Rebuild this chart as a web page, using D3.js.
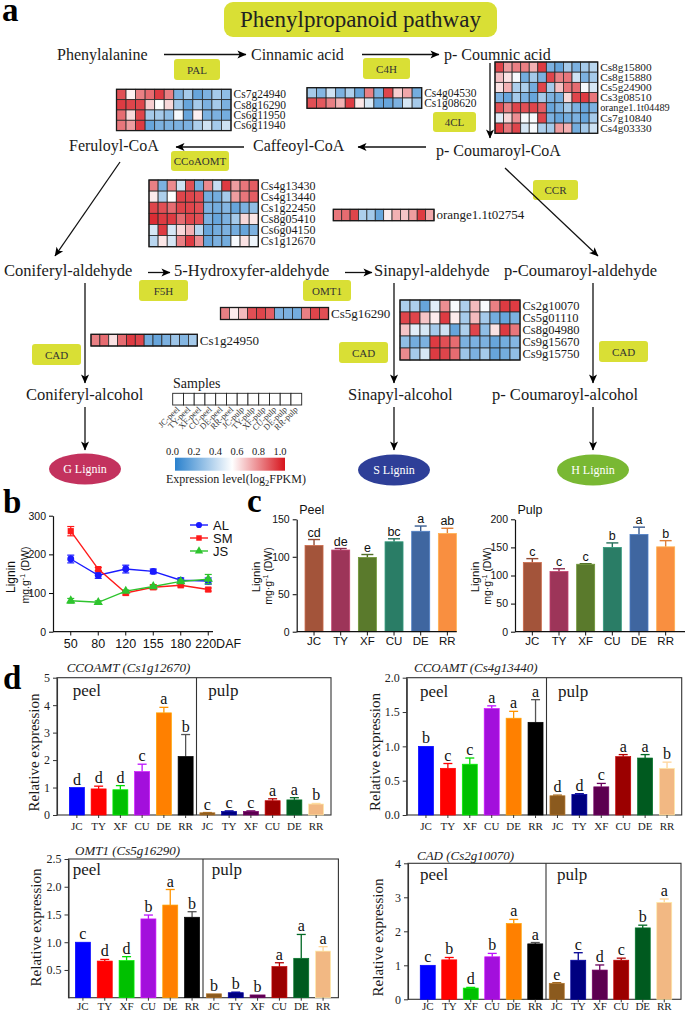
<!DOCTYPE html>
<html><head><meta charset="utf-8">
<script src="https://cdn.jsdelivr.net/npm/d3@7"></script>
<style>
body{margin:0;background:#fff}
svg{display:block}
</style>
</head><body>
<svg id="fig" width="685" height="1016"></svg>
<script>
// ---------------- DATA ----------------
const sampleLabels = ["JC-peel","TY-peel","XF-peel","CU-peel","DE-peel","RR-peel","JC-pulp","TY-pulp","XF-pulp","CU-pulp","DE-pulp","RR-pulp"];

const palGenes = ["Cs7g24940","Cs8g16290","Cs6g11950","Cs6g11940"];
const palExpr = [
 [0.88,0.55,0.78,0.82,0.92,0.78,0.20,0.30,0.15,0.20,0.30,0.25],
 [0.92,0.90,0.90,0.62,0.52,0.60,0.30,0.15,0.30,0.20,0.30,0.20],
 [0.82,0.60,0.90,0.30,0.30,0.25,0.50,0.15,0.55,0.20,0.20,0.18],
 [0.80,0.72,0.92,0.15,0.20,0.20,0.20,0.20,0.32,0.40,0.30,0.40]];

const c4hGenes = ["Cs4g04530","Cs1g08620"];
const c4hExpr = [
 [0.30,0.22,0.40,0.20,0.32,0.15,0.78,0.20,0.90,0.62,0.70,0.18],
 [0.88,0.86,0.78,0.68,0.92,0.57,0.42,0.15,0.15,0.20,0.42,0.30]];

const clGenes = ["Cs8g15800","Cs8g15880","Cs5g24900","Cs3g08510","orange1.1t04489","Cs7g10840","Cs4g03330"];
const clExpr = [
 [0.90,0.72,0.78,0.78,0.68,0.92,0.20,0.15,0.30,0.20,0.30,0.35],
 [0.65,0.58,0.50,0.18,0.30,0.20,0.90,0.78,0.80,0.40,0.20,0.30],
 [0.58,0.68,0.32,0.32,0.18,0.90,0.30,0.65,0.80,0.82,0.50,0.42],
 [0.20,0.15,0.30,0.20,0.15,0.30,0.20,0.18,0.60,0.90,0.92,0.80],
 [0.88,0.78,0.90,0.88,0.90,0.85,0.15,0.20,0.30,0.20,0.15,0.20],
 [0.45,0.60,0.75,0.50,0.50,0.90,0.20,0.15,0.18,0.20,0.15,0.30],
 [0.92,0.80,0.90,0.42,0.50,0.32,0.30,0.72,0.68,0.18,0.30,0.40]];

const ccoaGenes = ["Cs4g13430","Cs4g13440","Cs1g22450","Cs8g05410","Cs6g04150","Cs1g12670"];
const ccoaExpr = [
 [0.78,0.20,0.76,0.40,0.88,0.18,0.76,0.38,0.92,0.72,0.80,0.85],
 [0.56,0.32,0.52,0.90,0.90,0.88,0.18,0.18,0.30,0.72,0.80,0.85],
 [0.90,0.88,0.82,0.90,0.90,0.88,0.20,0.18,0.22,0.15,0.20,0.25],
 [0.95,0.92,0.92,0.82,0.90,0.88,0.20,0.15,0.20,0.30,0.60,0.57],
 [0.42,0.92,0.42,0.60,0.68,0.35,0.15,0.18,0.20,0.18,0.15,0.20],
 [0.35,0.57,0.42,0.78,0.92,0.75,0.15,0.20,0.18,0.50,0.58,0.48]];

const ccrGenes = ["orange1.1t02754"];
const ccrExpr = [[0.80,0.82,0.90,0.32,0.30,0.15,0.56,0.68,0.64,0.72,0.92,0.70]];

const omtGenes = ["Cs5g16290"];
const omtExpr = [[0.78,0.56,0.66,0.88,0.90,0.85,0.20,0.20,0.18,0.78,0.90,0.88]];

const cadLGenes = ["Cs1g24950"];
const cadLExpr = [[0.78,0.82,0.58,0.82,0.92,0.90,0.18,0.15,0.20,0.28,0.22,0.30]];

const cadGenes = ["Cs2g10070","Cs5g01110","Cs8g04980","Cs9g15670","Cs9g15750"];
const cadExpr = [
 [0.32,0.32,0.15,0.45,0.75,0.50,0.32,0.66,0.50,0.78,0.92,0.92],
 [0.90,0.90,0.64,0.56,0.92,0.56,0.30,0.66,0.30,0.18,0.15,0.20],
 [0.64,0.45,0.42,0.30,0.40,0.15,0.32,0.90,0.25,0.58,0.92,0.80],
 [0.25,0.18,0.20,0.92,0.88,0.82,0.20,0.20,0.20,0.15,0.18,0.22],
 [0.76,0.30,0.42,0.92,0.90,0.82,0.28,0.20,0.30,0.15,0.18,0.25]];

const legendTicks = [0,0.2,0.4,0.6,0.8,1.0];

// panel b
const dafLabels = ["50","80","120","155","180","220"];
const alLignin = [188,146,162,156,133,131];
const alErr    = [10,8,10,6,6,8];
const smLignin = [260,162,100,115,120,109];
const smErr    = [12,4,5,6,4,4];
const jsLignin = [80,76,105,117,130,136];
const jsErr    = [6,4,3,3,4,12];
const bTicks = [0,100,200,300];

// panel c
const cultivars = ["JC","TY","XF","CU","DE","RR"];
const peelLignin = [115,109,99,120,134,131];
const peelErr = [8,2,4,4,7,7];
const peelLetters = ["cd","de","e","bc","a","ab"];
const pulpLignin = [123,107,120,150,173,151];
const pulpErr = [7,5,1,8,13,11];
const pulpLetters = ["c","c","c","b","a","b"];
const peelTicks = [0,50,100,150];
const pulpTicks = [0,50,100,150,200];

// panel d
const qLabels = ["JC","TY","XF","CU","DE","RR","JC","TY","XF","CU","DE","RR"];
const ccoamt1Val = [1.0,0.95,0.92,1.58,3.72,2.13, 0.08,0.13,0.13,0.52,0.55,0.40];
const ccoamt1Err = [0,0.10,0.15,0.27,0.20,0.80, 0.01,0.02,0.02,0.07,0.08,0.02];
const ccoamt1Let = ["d","d","d","c","a","b","c","c","c","a","a","b"];
const ccoamt1Ticks = [0,1,2,3,4,5];

const ccoamt2Val = [1.0,0.68,0.74,1.55,1.41,1.35, 0.28,0.30,0.41,0.85,0.83,0.68];
const ccoamt2Err = [0,0.07,0.09,0.04,0.10,0.33, 0.01,0.01,0.05,0.03,0.05,0.09];
const ccoamt2Let = ["b","c","c","a","a","a","d","d","c","a","a","b"];
const ccoamt2Ticks = [0,0.5,1.0,1.5,2.0];

const omt1Val = [1.0,0.66,0.67,1.42,1.67,1.45, 0.07,0.09,0.05,0.56,0.71,0.84];
const omt1Err = [0,0.03,0.07,0.07,0.28,0.10, 0.0,0.01,0.0,0.07,0.43,0.08];
const omt1Let = ["c","d","d","b","a","b","b","b","b","a","a","a"];
const omt1Ticks = [0.5,1.0,1.5,2.0,2.5];

const cadVal = [1.0,1.16,0.33,1.25,2.23,1.63, 0.47,1.15,0.86,1.15,2.10,2.85];
const cadErr = [0,0.07,0.02,0.10,0.12,0.04, 0.02,0.22,0.15,0.06,0.08,0.10];
const cadLet = ["c","b","d","b","a","a","e","c","d","c","b","a"];
const cadTicks = [0,1,2,3,4];

// palettes
const cultivarColors = ["#a3543a","#9d3559","#5a7a2c","#2a7d66","#3f66a0","#f98f40"];
const qColors = ["#0000ff","#ff0000","#00c000","#a30fdc","#ff8000","#000000",
                 "#8b5a1e","#000080","#5c0050","#9b0000","#005a1f","#f2b883"];

// ---------------- DRAW ----------------
const SERIF = '"Liberation Serif","Times New Roman",serif';
const SANS = '"Liberation Sans",Arial,sans-serif';
const svg = d3.select("#fig");
const defs = svg.append("defs");
defs.append("marker").attr("id","ah").attr("viewBox","0 0 10 10").attr("refX",9.5).attr("refY",5)
  .attr("markerWidth",10).attr("markerHeight",9).attr("markerUnits","userSpaceOnUse").attr("orient","auto")
  .append("path").attr("d","M0,0.5 L10,5 L0,9.5 L2.5,5 Z").attr("fill","#000");

const heatColor = d3.scaleLinear().domain([0,0.52,1]).range(["#2a81cd","#ffffff","#d7141c"]);

function txt(g, x, y, s, size, opts={}){
  const t = g.append("text").attr("x",x).attr("y",y).text(s)
    .attr("font-family",opts.family||SERIF).attr("font-size",size).attr("fill",opts.fill||"#1a1a1a");
  if(opts.anchor) t.attr("text-anchor",opts.anchor);
  if(opts.weight) t.attr("font-weight",opts.weight);
  if(opts.style) t.attr("font-style",opts.style);
  return t;
}

// panel letters
[["a",2,21],["b",3,513],["c",247,512],["d",3,689]].forEach(([l,x,y])=>txt(svg,x,y,l,33,{weight:"bold",fill:"#000"}));

// Title box
svg.append("rect").attr("x",224).attr("y",2).attr("width",273).attr("height",35).attr("rx",9).attr("fill","#d9df35");
txt(svg,360.5,27,"Phenylpropanoid pathway",23,{anchor:"middle",fill:"#222"});

// heatmap helper
function heat(genes, rows, x, y, w, h, fs){
  const xs = d3.scaleBand().domain(d3.range(12)).range([x,x+w]);
  const ys = d3.scaleBand().domain(genes).range([y,y+h]);
  const g = svg.append("g");
  rows.forEach((r,ri)=>r.forEach((v,ci)=>{
    g.append("rect").attr("x",xs(ci)).attr("y",ys(genes[ri])).attr("width",xs.bandwidth()).attr("height",ys.bandwidth())
      .attr("fill",heatColor(v)).attr("stroke","#2a2a2a").attr("stroke-width",0.8);
  }));
  g.append("rect").attr("x",x).attr("y",y).attr("width",w).attr("height",h).attr("fill","none").attr("stroke","#1a1a1a").attr("stroke-width",1.3);
  genes.forEach(gn=>txt(g,x+w+2.5,ys(gn)+ys.bandwidth()/2,gn,gn.startsWith("orange")&&genes.length>1?fs-1:fs).attr("dy","0.34em"));
}
heat(palGenes,palExpr,116.5,89.3,114.5,41.3,11.5);
heat(c4hGenes,c4hExpr,307,87.7,114.7,20.6,11.5);
heat(clGenes,clExpr,495,62,102.7,71.3,11.3);
heat(ccoaGenes,ccoaExpr,149,180,109.3,66.7,12);
heat(ccrGenes,ccrExpr,333.3,209.3,100.7,11.4,13);
heat(omtGenes,omtExpr,220.5,307.5,108,12,13);
heat(cadLGenes,cadLExpr,91,334.3,106.3,11.7,13);
heat(cadGenes,cadExpr,400,300,120,60,12.5);

// enzyme boxes
[["PAL",174,59,46,21],["C4H",363,58,47,21],["4CL",433,112,43,20],["CCoAOMT",171,151,58,20],["CCR",533,180,45,20],
 ["F5H",139,280,49,21],["OMT1",303,280,48,21],["CAD",32,344,49,21],["CAD",339,342,49,21],["CAD",599,341,49,21]]
.forEach(([l,x,y,w,h])=>{
  svg.append("rect").attr("x",x).attr("y",y).attr("width",w).attr("height",h).attr("rx",3).attr("fill","#d9df35");
  txt(svg,x+w/2,y+h/2+4,l,11,{anchor:"middle",fill:"#333"});
});

// compounds
[["Phenylalanine",57,60],["Cinnamic acid",251,60],["p- Coumnic acid",444,60],
 ["Feruloyl-CoA",69,151],["Caffeoyl-CoA",253,151],["p- Coumaroyl-CoA",436,156]]
.forEach(([s,x,y])=>txt(svg,x,y,s,16));
[["Coniferyl-aldehyde",4,276],["5-Hydroxyfer-aldehyde",174,276],["Sinapyl-aldehyde",374,276],["p-Coumaroyl-aldehyde",504,276],
 ["Coniferyl-alcohol",26,400],["Sinapyl-alcohol",348,400],["p- Coumaroyl-alcohol",492,400]]
.forEach(([s,x,y])=>txt(svg,x,y,s,16.5));

// arrows
[[164,54.5,246,54.5],[362,54.5,439,54.5],[490,63,490,138],[426,147,358,147],[244,147,176,147],
 [120,162,55,256],[505,168,598,256],[148,272.5,170,272.5],[345,272.5,372,272.5],
 [85,283,85,383],[394,283,394,383],[593,283,593,383],[85,407,85,450],[394,407,394,450],[593,407,593,450]]
.forEach(([x1,y1,x2,y2])=>svg.append("line").attr("x1",x1).attr("y1",y1).attr("x2",x2).attr("y2",y2)
  .attr("stroke","#111").attr("stroke-width",1.3).attr("marker-end","url(#ah)"));

// lignin ellipses
[["G Lignin",85,469,"#c3325e"],["S Lignin",394,470,"#2e3f98"],["H Lignin",593,470,"#79b833"]].forEach(([l,cx,cy,c])=>{
  svg.append("ellipse").attr("cx",cx).attr("cy",cy).attr("rx",36).attr("ry",15.5).attr("fill",c);
  txt(svg,cx,cy+4,l,12,{anchor:"middle",fill:"#fff"});
});

// Samples legend
txt(svg,173,388,"Samples",14);
const sx = d3.scaleBand().domain(sampleLabels).range([172.7,301.7]);
sampleLabels.forEach(s=>{
  svg.append("rect").attr("x",sx(s)).attr("y",393.3).attr("width",sx.bandwidth()).attr("height",11.7).attr("fill","#fff").attr("stroke","#222").attr("stroke-width",0.9);
  const cx = sx(s)+sx.bandwidth()/2+2;
  txt(svg,0,0,s,8.5,{anchor:"end",fill:"#333"}).attr("transform",`translate(${cx},410) rotate(-45)`);
});
// colour legend
const grad = defs.append("linearGradient").attr("id","hg");
[[0,"#2a81cd"],[0.52,"#ffffff"],[1,"#d7141c"]].forEach(([o,c])=>grad.append("stop").attr("offset",o).attr("stop-color",c));
svg.append("rect").attr("x",175).attr("y",457.7).attr("width",110).attr("height",13).attr("fill","url(#hg)");
const lx = d3.scaleLinear().domain([0,1]).range([172.5,280]);
legendTicks.forEach(v=>txt(svg,lx(v),455,v.toFixed(1),10.5,{anchor:"middle"}));
const el = txt(svg,166,482.7,"Expression level(log",12);
el.append("tspan").attr("font-size",8.5).attr("dy",3).text("2");
el.append("tspan").attr("dy",-3).text("FPKM)");

// ---------------- panel b ----------------
{
  const g = svg.append("g").attr("font-family",SANS);
  const x = d3.scalePoint().domain(dafLabels).range([57,222]).padding(0.5);
  const y = d3.scaleLinear().domain([0,300]).range([631.7,515.7]);
  const ax = g.append("g").attr("transform","translate(53,0)").call(d3.axisLeft(y).tickValues(bTicks).tickSize(4).tickSizeOuter(0));
  ax.selectAll("text").attr("font-size",10.5).attr("font-family",SANS).attr("fill","#111");
  ax.select(".domain").attr("stroke","#111").attr("stroke-width",1.2);
  g.append("line").attr("x1",53).attr("x2",213).attr("y1",631.7).attr("y2",631.7).attr("stroke","#111").attr("stroke-width",1.2);
  dafLabels.forEach((d,i)=>{
    g.append("line").attr("x1",x(d)).attr("x2",x(d)).attr("y1",631.7).attr("y2",635.5).attr("stroke","#111");
    if(i<dafLabels.length-1) txt(g,x(d),648,d,12.5,{anchor:"middle",family:SANS,fill:"#111"});
    else txt(g,x(d)-13,648,d+"DAF",12.5,{family:SANS,fill:"#111"});
  });
  const series = [
    {name:"AL",v:alLignin,e:alErr,c:"#1a1aff",sym:d3.symbolCircle},
    {name:"SM",v:smLignin,e:smErr,c:"#ff1a1a",sym:d3.symbolSquare},
    {name:"JS",v:jsLignin,e:jsErr,c:"#2ec42e",sym:d3.symbolTriangle}];
  series.forEach((s,si)=>{
    g.append("path").datum(s.v).attr("fill","none").attr("stroke",s.c).attr("stroke-width",1.4)
      .attr("d",d3.line().x((v,i)=>x(dafLabels[i])).y(v=>y(v)));
    s.v.forEach((v,i)=>{
      const xx = x(dafLabels[i]);
      g.append("line").attr("x1",xx).attr("x2",xx).attr("y1",y(v-s.e[i])).attr("y2",y(v+s.e[i])).attr("stroke",s.c).attr("stroke-width",1.2);
      [v-s.e[i],v+s.e[i]].forEach(w=>g.append("line").attr("x1",xx-3.5).attr("x2",xx+3.5).attr("y1",y(w)).attr("y2",y(w)).attr("stroke",s.c).attr("stroke-width",1.2));
      g.append("path").attr("d",d3.symbol().type(s.sym).size(38)).attr("transform",`translate(${xx},${y(v)})`).attr("fill",s.c);
    });
    const ly = 525+si*13;
    g.append("line").attr("x1",190).attr("x2",208).attr("y1",ly).attr("y2",ly).attr("stroke",s.c).attr("stroke-width",1.4);
    g.append("path").attr("d",d3.symbol().type(s.sym).size(30)).attr("transform",`translate(199,${ly})`).attr("fill",s.c);
    txt(g,213,ly+4.5,s.name,13,{family:SANS,fill:"#111"});
  });
  txt(g,0,0,"Lignin",12,{anchor:"middle",family:SANS,fill:"#111"}).attr("transform","translate(15,577) rotate(-90)");
  const t2 = txt(g,0,0,"mg.g",10.5,{anchor:"middle",family:SANS,fill:"#111"}).attr("transform","translate(29,575) rotate(-90)");
  t2.append("tspan").attr("font-size",7).attr("dy",-4).text("-1");
  t2.append("tspan").attr("dy",4).text(" (DW)");
}

// ---------------- panel c ----------------
function ligninBars(vals, errs, letters, ticks, ymax, axX, r0, r1, lineEnd, title, labX){
  const g = svg.append("g");
  const x = d3.scalePoint().domain(cultivars).range([r0,r1]).padding(0.5);
  const y = d3.scaleLinear().domain([0,ymax]).range([631.7,519.3]);
  const ax = g.append("g").attr("transform",`translate(${axX},0)`).call(d3.axisLeft(y).tickValues(ticks).tickSize(4).tickSizeOuter(0));
  ax.selectAll("text").attr("font-size",10.5).attr("font-family",SANS).attr("fill","#111");
  ax.select(".domain").attr("stroke","#111").attr("stroke-width",1.2);
  cultivars.forEach((c,i)=>{
    const xx = x(c), col = cultivarColors[i];
    const top = y(vals[i]+errs[i]);
    g.append("line").attr("x1",xx).attr("x2",xx).attr("y1",y(vals[i])).attr("y2",top).attr("stroke",d3.color(col).darker(0.3)).attr("stroke-width",1.4);
    g.append("line").attr("x1",xx-6).attr("x2",xx+6).attr("y1",top).attr("y2",top).attr("stroke",d3.color(col).darker(0.3)).attr("stroke-width",1.4);
    g.append("rect").attr("x",xx-9).attr("y",y(vals[i])).attr("width",18).attr("height",y(0)-y(vals[i]))
      .attr("fill",col).attr("stroke",d3.color(col).brighter(0.6)).attr("stroke-width",0.8);
    txt(g,xx,top-3,letters[i],12.5,{anchor:"middle",family:SANS,fill:"#111"});
    g.append("line").attr("x1",xx).attr("x2",xx).attr("y1",631.7).attr("y2",635.5).attr("stroke","#111");
    txt(g,xx,645,c,11.5,{anchor:"middle",family:SANS,fill:"#111"});
  });
  g.append("line").attr("x1",axX).attr("x2",lineEnd).attr("y1",631.7).attr("y2",631.7).attr("stroke","#111").attr("stroke-width",1.2);
  txt(g,axX+2.5,514,title,12.5,{family:SANS,fill:"#111"});
  txt(g,0,0,"Lignin",11.5,{anchor:"middle",family:SANS,fill:"#111"}).attr("transform",`translate(${labX},577) rotate(-90)`);
  const t2 = txt(g,0,0,"mg·g",10.5,{anchor:"middle",family:SANS,fill:"#111"}).attr("transform",`translate(${labX+12},576) rotate(-90)`);
  t2.append("tspan").attr("font-size",7).attr("dy",-4).text("-1");
  t2.append("tspan").attr("dy",4).text(" (DW)");
}
ligninBars(peelLignin,peelErr,peelLetters,peelTicks,150,296.7,300.7,460.7,456.7,"Peel",260);
ligninBars(pulpLignin,pulpErr,pulpLetters,pulpTicks,200,515,519,679,685,"Pulp",478.5);

// ---------------- panel d ----------------
function qpcr(o){
  const g = svg.append("g");
  const x = d3.scalePoint().domain(d3.range(12)).range([o.r0,o.r1]).padding(0.5);
  const y = d3.scaleLinear().domain([0,o.ymax]).range([o.yb,o.yt]);
  g.append("rect").attr("x",o.ax).attr("y",o.yt).attr("width",o.fr-o.ax).attr("height",o.yb-o.yt)
    .attr("fill","none").attr("stroke","#333").attr("stroke-width",1.1);
  const dv = (x(5)+x(6))/2;
  g.append("line").attr("x1",dv).attr("x2",dv).attr("y1",o.yt).attr("y2",o.yb).attr("stroke","#333").attr("stroke-width",1.1);
  o.vals.forEach((v,i)=>{
    const xx = x(i), col = qColors[i];
    const top = y(v+o.errs[i]);
    const ec = i===5 ? "#555" : d3.color(col).brighter(0.4);
    if(o.errs[i]>0){
      g.append("line").attr("x1",xx).attr("x2",xx).attr("y1",y(v)).attr("y2",top).attr("stroke",ec).attr("stroke-width",1.3);
      g.append("line").attr("x1",xx-4.5).attr("x2",xx+4.5).attr("y1",top).attr("y2",top).attr("stroke",ec).attr("stroke-width",1.3);
    }
    g.append("rect").attr("x",xx-7.5).attr("y",y(v)).attr("width",15).attr("height",y(0)-y(v))
      .attr("fill",col).attr("stroke",d3.color(col).brighter(0.7)).attr("stroke-width",0.7);
    txt(g,xx,top-3,o.lets[i],16,{anchor:"middle",fill:"#111"});
    g.append("line").attr("x1",xx).attr("x2",xx).attr("y1",o.yb).attr("y2",o.yb+3).attr("stroke","#333");
    txt(g,xx,o.xlY,qLabels[i],11,{anchor:"middle",fill:"#222"});
  });
  const ax = g.append("g").attr("transform",`translate(${o.ax},0)`)
    .call(d3.axisLeft(y).tickValues(o.ticks).tickFormat(o.fmt).tickSize(4).tickSizeOuter(0));
  ax.selectAll("text").attr("font-size",12).attr("font-family",SERIF).attr("fill","#222");
  ax.selectAll("line").attr("stroke","#333");
  ax.select(".domain").attr("stroke","#333").attr("stroke-width",1.1);
  txt(g,o.tx,o.ty,o.title,13,{style:"italic",fill:"#222"});
  txt(g,o.px,o.py,"peel",17);
  txt(g,o.ux,o.py,"pulp",17);
  txt(g,0,0,"Relative expression",15,{anchor:"middle"}).attr("transform",`translate(${o.lx},${o.ly}) rotate(-90)`);
}
qpcr({r0:66,r1:327,ax:57,fr:331,yt:677.7,yb:815,ymax:5,ticks:ccoamt1Ticks,fmt:d3.format("d"),
  vals:ccoamt1Val,errs:ccoamt1Err,lets:ccoamt1Let,title:"CCOAMT (Cs1g12670)",tx:66.7,ty:671.7,
  px:72.7,ux:208.3,py:696,xlY:829.5,lx:39,ly:752.5});
qpcr({r0:415,r1:678,ax:406.7,fr:681.7,yt:677.7,yb:815,ymax:2,ticks:ccoamt2Ticks,fmt:d3.format(".1f"),
  vals:ccoamt2Val,errs:ccoamt2Err,lets:ccoamt2Let,title:"CCOAMT (Cs4g13440)",tx:414,ty:671.7,
  px:420,ux:558,py:696.7,xlY:829.5,lx:380,ly:752});
qpcr({r0:72,r1:334,ax:68.5,fr:338.4,yt:859,yb:997.7,ymax:2.5,ticks:omt1Ticks,fmt:d3.format(".1f"),
  vals:omt1Val,errs:omt1Err,lets:omt1Let,title:"OMT1 (Cs5g16290)",tx:75,ty:855,
  px:72.7,ux:211.7,py:875,xlY:1010,lx:41,ly:927.5});
qpcr({r0:417,r1:675,ax:408,fr:681,yt:863.3,yb:999.3,ymax:4,ticks:cadTicks,fmt:d3.format("d"),
  vals:cadVal,errs:cadErr,lets:cadLet,title:"CAD (Cs2g10070)",tx:417,ty:860,
  px:420,ux:557,py:880,xlY:1010,lx:383,ly:937.5});
</script>
</body></html>
